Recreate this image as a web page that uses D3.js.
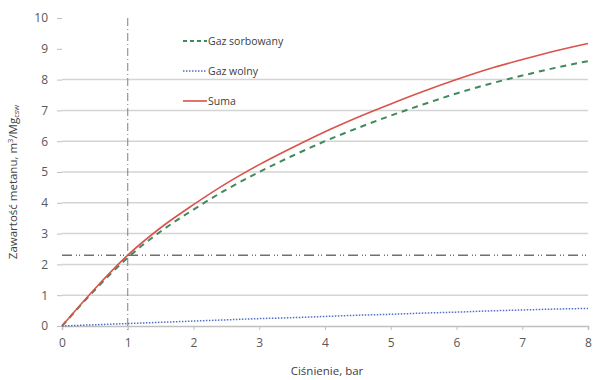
<!DOCTYPE html>
<html><head><meta charset="utf-8">
<script src="https://cdn.jsdelivr.net/npm/d3@7"></script>
<style>
body{margin:0;background:#fff;}
text{font-family:"Open Sans","Noto Sans",sans-serif;}
</style></head>
<body><svg id="c" width="596" height="380"></svg>
<script>
const pressure   = [0, 0.5, 1, 1.5, 2, 2.5, 3, 3.5, 4, 4.5, 5, 5.5, 6, 6.5, 7, 7.5, 8];
const sorbowany  = [0, 1.17, 2.22, 3.07, 3.78, 4.43, 5.0, 5.52, 6.0, 6.43, 6.83, 7.2, 7.55, 7.86, 8.13, 8.38, 8.6];
const wolny      = [0, 0.04, 0.08, 0.12, 0.16, 0.2, 0.24, 0.27, 0.31, 0.35, 0.38, 0.42, 0.45, 0.49, 0.52, 0.55, 0.57];
const suma       = [0, 1.21, 2.3, 3.19, 3.94, 4.63, 5.24, 5.79, 6.31, 6.78, 7.21, 7.62, 8.0, 8.35, 8.65, 8.93, 9.17];
const xTicks     = [0, 1, 2, 3, 4, 5, 6, 7, 8];
const yTicks     = [0, 1, 2, 3, 4, 5, 6, 7, 8, 9, 10];
const gridValues = [1, 2, 3, 4, 5, 6, 7, 8];
const refPressure = 1;
const refContent  = 2.3;
const seriesNames = ["Gaz sorbowany", "Gaz wolny", "Suma"];

const svg = d3.select("#c");
const x = d3.scaleLinear().domain([0, 8]).range([62, 588]);
const y = d3.scaleLinear().domain([0, 10]).range([326, 18]);

// gridlines
svg.append("g").selectAll("line").data(gridValues).join("line")
  .attr("x1", x(0)).attr("x2", x(8))
  .attr("y1", d => y(d)).attr("y2", d => y(d))
  .attr("stroke", "#d4d4d4").attr("stroke-width", 1.5);

// x axis
const gx = svg.append("g").attr("transform", `translate(0,${y(0)})`)
  .call(d3.axisBottom(x).tickValues(xTicks).tickFormat(d3.format("d")).tickSize(4).tickPadding(8));
gx.select(".domain").attr("stroke", "#bfbfbf").attr("stroke-width", 1.5);
gx.selectAll(".tick line").attr("stroke", "#bfbfbf");
gx.selectAll("text").attr("fill", "#595959").attr("font-size", 12);

// y axis
const gy = svg.append("g").attr("transform", `translate(${x(0)},0)`)
  .call(d3.axisLeft(y).tickValues(yTicks).tickFormat(d3.format("d")).tickSize(5).tickPadding(9));
gy.select(".domain").remove();
gy.selectAll(".tick line").attr("stroke", "#bfbfbf");
gy.selectAll("text").attr("fill", "#595959").attr("font-size", 12);

// reference lines
svg.append("line")
  .attr("x1", x(refPressure)).attr("x2", x(refPressure))
  .attr("y1", y(10)).attr("y2", y(0) + 4)
  .attr("stroke", "#7f7f7f").attr("stroke-width", 1)
  .attr("stroke-dasharray", "8,3,1,3");
svg.append("line")
  .attr("x1", x(0)).attr("x2", x(8))
  .attr("y1", y(refContent)).attr("y2", y(refContent))
  .attr("stroke", "#707070").attr("stroke-width", 1.5)
  .attr("stroke-dasharray", "10,4,1,2,1,4");

const line = d3.line().x((d, i) => x(pressure[i])).y(d => y(d)).curve(d3.curveMonotoneX);

svg.append("path").datum(wolny).attr("d", line)
  .attr("fill", "none").attr("stroke", "#4f6fc8").attr("stroke-width", 1.5)
  .attr("stroke-dasharray", "1.5,1.5");
svg.append("path").datum(sorbowany).attr("d", line)
  .attr("fill", "none").attr("stroke", "#3f8a5c").attr("stroke-width", 2)
  .attr("stroke-dasharray", "6,5");
svg.append("path").datum(suma).attr("d", line)
  .attr("fill", "none").attr("stroke", "#d9534a").attr("stroke-width", 1.6);

// legend
const legendStyles = [
  {stroke: "#3f8a5c", dash: "4,3", w: 2},
  {stroke: "#4f6fc8", dash: "1.5,1.5", w: 1.5},
  {stroke: "#d9534a", dash: null, w: 1.6}
];
const lg = svg.append("g");
seriesNames.forEach((name, i) => {
  const yy = 41 + i * 30;
  lg.append("line").attr("x1", 183).attr("x2", 207).attr("y1", yy).attr("y2", yy)
    .attr("stroke", legendStyles[i].stroke).attr("stroke-width", legendStyles[i].w)
    .attr("stroke-dasharray", legendStyles[i].dash);
  lg.append("text").attr("x", 208).attr("y", yy + 4).attr("font-size", 10.5)
    .attr("fill", "#404040").text(name);
});

// axis titles
svg.append("text").attr("x", 327).attr("y", 375).attr("text-anchor", "middle")
  .attr("font-size", 11.5).attr("fill", "#404040").text("Ciśnienie, bar");
const yt = svg.append("text").attr("transform", "translate(17,182) rotate(-90)")
  .attr("text-anchor", "middle").attr("font-size", 11.5).attr("fill", "#404040");
yt.append("tspan").text("Zawartość metanu, m");
yt.append("tspan").attr("font-size", 7.5).attr("dy", -4).text("3");
yt.append("tspan").attr("dy", 4).text("/Mg");
yt.append("tspan").attr("font-size", 7.5).attr("dy", 2).text("csw");
</script>
</body></html>
